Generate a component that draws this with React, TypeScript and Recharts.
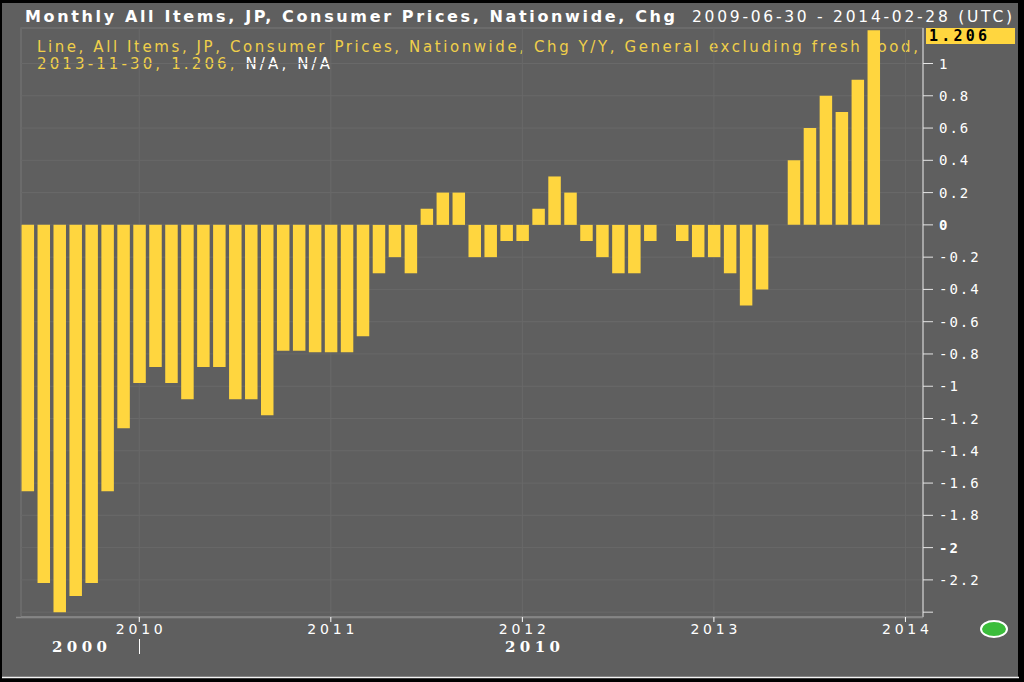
import React from 'react';
import { BarChart, Bar, XAxis, YAxis, CartesianGrid } from 'recharts';

const months: string[] = [
  '2009-06', '2009-07', '2009-08', '2009-09', '2009-10', '2009-11', '2009-12',
  '2010-01', '2010-02', '2010-03', '2010-04', '2010-05', '2010-06', '2010-07', '2010-08', '2010-09', '2010-10', '2010-11', '2010-12',
  '2011-01', '2011-02', '2011-03', '2011-04', '2011-05', '2011-06', '2011-07', '2011-08', '2011-09', '2011-10', '2011-11', '2011-12',
  '2012-01', '2012-02', '2012-03', '2012-04', '2012-05', '2012-06', '2012-07', '2012-08', '2012-09', '2012-10', '2012-11', '2012-12',
  '2013-01', '2013-02', '2013-03', '2013-04', '2013-05', '2013-06', '2013-07', '2013-08', '2013-09', '2013-10', '2013-11', '2013-12',
  '2014-01', '2014-02',
];

const cpiYoY: (number | null)[] = [
  -1.65, -2.22, -2.4, -2.3, -2.22, -1.65, -1.26,
  -0.98, -0.88, -0.98, -1.08, -0.88, -0.88, -1.08, -1.08, -1.18, -0.78, -0.78, -0.79,
  -0.79, -0.79, -0.69, -0.3, -0.2, -0.3, 0.1, 0.2, 0.2, -0.2, -0.2, -0.1,
  -0.1, 0.1, 0.3, 0.2, -0.1, -0.2, -0.3, -0.3, -0.1, 0, -0.1, -0.2,
  -0.2, -0.3, -0.5, -0.4, 0, 0.4, 0.6, 0.8, 0.7, 0.9, 1.206, null,
  null, null,
];

const yearLabels: string[] = ['2010', '2011', '2012', '2013', '2014'];
const yTicks: number[] = [1, 0.8, 0.6, 0.4, 0.2, 0, -0.2, -0.4, -0.6, -0.8, -1, -1.2, -1.4, -1.6, -1.8, -2, -2.2, -2.4];
const unlabeledTicks: number[] = [-2.4];
const boldTicks: number[] = [0, -2];

const titleText = 'Monthly All Items, JP, Consumer Prices, Nationwide, Chg';
const dateRange = '2009-06-30 - 2014-02-28 (UTC)';
const legendLine = 'Line, All Items, JP, Consumer Prices, Nationwide, Chg Y/Y, General excluding fresh food,';
const lastDate = '2013-11-30';
const lastValue = 1.206;

const data = months.map((m, i) => ({ idx: i, month: m, value: cpiYoY[i] }));
const xTicks = yearLabels.map((y) => months.indexOf(`${y}-01`));

const BG = '#5f5f5f';
const BAR = '#ffd63f';
const LEGEND = '#f0cf4a';

const XTick = (props: any) => {
  const { x, y, payload } = props;
  const label = months[payload.value] ? months[payload.value].slice(0, 4) : '';
  return (
    <text
      x={x}
      y={y + 10}
      textAnchor="middle"
      fontFamily="DejaVu Sans"
      fontSize={14}
      fill="#ffffff"
      textLength={47}
      lengthAdjust="spacing"
    >
      {label}
    </text>
  );
};

const YTick = (props: any) => {
  const { x, y, payload } = props;
  const v: number = payload.value;
  if (unlabeledTicks.includes(v)) return <g />;
  const bold = boldTicks.includes(v);
  return (
    <text
      x={x}
      y={y + 5}
      textAnchor="start"
      fontFamily="DejaVu Sans Mono"
      fontSize={14}
      letterSpacing={2}
      fontWeight={bold ? 'bold' : 'normal'}
      fill="#ffffff"
    >
      {String(v)}
    </text>
  );
};

export default function App() {
  return (
    <div style={{ position: 'absolute', left: 0, top: 0, width: 1024, height: 682, background: '#000' }}>
      <svg width={1024} height={682} style={{ position: 'absolute', left: 0, top: 0 }}>
        <rect x={0} y={0} width={1024} height={682} fill="#000" />
        <rect x={2} y={3} width={1016} height={675} fill={BG} />
        <line x1={2} y1={677.5} x2={1019} y2={677.5} stroke="#f2f2f2" strokeWidth={1.5} />
        <text x={25} y={22} fontFamily="DejaVu Sans" fontWeight="bold" fontSize={16} fill="#ffffff" textLength={650} lengthAdjust="spacing">
          {titleText}
        </text>
        <text x={692} y={22} fontFamily="DejaVu Sans" fontSize={15.5} fill="#ffffff" textLength={320} lengthAdjust="spacing">
          {dateRange}
        </text>
        <rect x={21} y={28} width={902} height={589} fill="none" stroke="#7e7e7e" strokeWidth={1} />
        <line x1={16} y1={617.5} x2={923} y2={617.5} stroke="#8a8a8a" strokeWidth={1.5} />
        <text x={37} y={52} fontFamily="DejaVu Sans" fontSize={15} fill={LEGEND} textLength={881} lengthAdjust="spacing">
          {legendLine}
        </text>
        <text x={37} y={69} fontFamily="DejaVu Sans" fontSize={15} fill={LEGEND} textLength={293} lengthAdjust="spacing">
          <tspan>{`${lastDate}, ${lastValue}, `}</tspan>
          <tspan fill="#ffffff">N/A, N/A</tspan>
        </text>
        <text x={52} y={652} fontFamily="DejaVu Serif" fontWeight="bold" fontSize={15} fill="#ffffff" textLength={55} lengthAdjust="spacing">
          2000
        </text>
        <line x1={139.5} y1={639} x2={139.5} y2={654} stroke="#ffffff" strokeWidth={1} />
        <text x={505} y={652} fontFamily="DejaVu Serif" fontWeight="bold" fontSize={15} fill="#ffffff" textLength={55} lengthAdjust="spacing">
          2010
        </text>
        <rect x={926} y={28} width={89} height={16} fill={BAR} />
        <text x={929} y={41} fontFamily="DejaVu Sans Mono" fontWeight="bold" fontSize={15} fill="#000000" textLength={58} lengthAdjust="spacing">
          {lastValue.toFixed(3)}
        </text>
        <ellipse cx={994} cy={629} rx={13} ry={8} fill="#3bbd3b" stroke="#ffffff" strokeWidth={2} />
      </svg>
      <div style={{ position: 'absolute', left: 0, top: 0 }}>
        <BarChart
          width={1024}
          height={682}
          data={data}
          margin={{ top: 28, left: 21, right: 21, bottom: 35 }}
          style={{ background: 'transparent' }}
        >
          <CartesianGrid stroke="#696969" strokeWidth={1} />
          <XAxis
            type="number"
            dataKey="idx"
            domain={[-0.41, 56.1]}
            allowDataOverflow
            ticks={xTicks}
            interval={0}
            height={30}
            axisLine={{ stroke: '#8a8a8a', strokeWidth: 1.5 }}
            tickLine={{ stroke: '#ffffff' }}
            tickSize={5}
            tick={<XTick />}
          />
          <YAxis
            type="number"
            orientation="right"
            domain={[-2.43, 1.22]}
            allowDataOverflow
            ticks={yTicks}
            interval={0}
            width={80}
            axisLine={{ stroke: '#a6a6a6', strokeWidth: 2 }}
            tickLine={{ stroke: '#e6e6e6' }}
            tickSize={10}
            tickMargin={6}
            tick={<YTick />}
          />
          <Bar dataKey="value" fill={BAR} barSize={12.5} isAnimationActive={false} />
        </BarChart>
      </div>
    </div>
  );
}
